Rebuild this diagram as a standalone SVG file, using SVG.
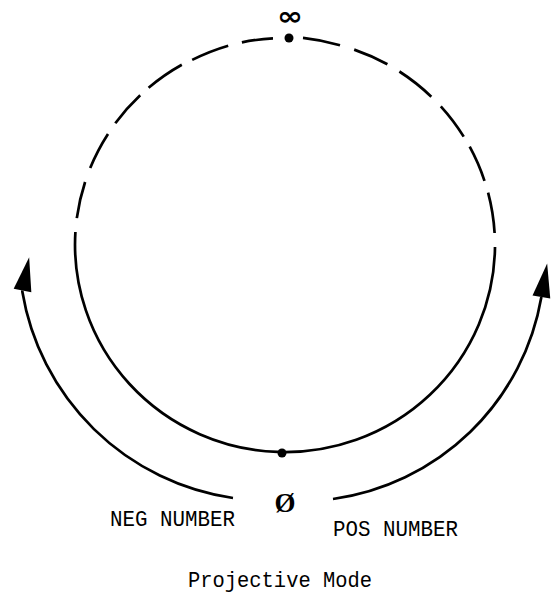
<svg xmlns="http://www.w3.org/2000/svg" width="552" height="594" viewBox="0 0 552 594">
  <style>
    .ln { fill: none; stroke: #000; stroke-width: 2.7; stroke-linecap: butt; }
    .dot { fill: #000; }
    .lbl { font-family: "Liberation Mono", monospace; font-size: 22px; fill: #000; }
    .sym { fill: #000; }
  </style>
  <defs>
    <marker id="head" markerUnits="userSpaceOnUse" markerWidth="40" markerHeight="24" viewBox="-2 -12 40 24" refX="0" refY="0" orient="auto">
      <path d="M0,-9 L34,0 L0,9 Z" fill="#000"/>
    </marker>
  </defs>

  <g id="circle">
    <path class="ln" d="M75.4,232 A210,207.5 0 1 0 495,247"/>
    <path class="ln" d="M76.8,218.1 A210,207.5 0 0 1 85.1,182"/>
    <path class="ln" d="M90.2,168.1 A210,207.5 0 0 1 108,134"/>
    <path class="ln" d="M115.3,123.2 A210,207.5 0 0 1 140.2,95.2"/>
    <path class="ln" d="M148.6,87.7 A210,207.5 0 0 1 181.8,64.7"/>
    <path class="ln" d="M192.2,59.9 A210,207.5 0 0 1 228.2,45.7"/>
    <path class="ln" d="M241.9,42.4 A210,207.5 0 0 1 273,38.3"/>
    <path class="ln" d="M303,37.8 A210,207.5 0 0 1 340,45.2"/>
    <path class="ln" d="M354.2,49.6 A210,207.5 0 0 1 387.4,64.3"/>
    <path class="ln" d="M399.4,71.5 A210,207.5 0 0 1 431.3,96.7"/>
    <path class="ln" d="M440.8,106.3 A210,207.5 0 0 1 463.7,136.6"/>
    <path class="ln" d="M469.7,146.6 A210,207.5 0 0 1 484.5,180.8"/>
    <path class="ln" d="M488.1,192.7 A210,207.5 0 0 1 494.6,233"/>
  </g>

  <g id="infinity">
    <circle class="dot" cx="289" cy="38" r="4.5"/>
    <text class="sym" transform="translate(290,24.5) scale(1.2,1)" x="0" y="0" text-anchor="middle" font-family="DejaVu Sans, sans-serif" font-weight="bold" font-size="26">∞</text>
  </g>

  <g id="zero">
    <circle class="dot" cx="282" cy="453" r="4.5"/>
    <text class="sym" x="285" y="512" text-anchor="middle" font-family="Liberation Serif, serif" font-weight="bold" font-size="27">Ø</text>
  </g>

  <g id="connectors">
    <path class="ln" d="M233,498 A250,250 0 0 1 22.3,291.5 L22.5,290.5" marker-end="url(#head)"/>
    <path class="ln" d="M333,499 A246,246 0 0 0 541.4,297" marker-end="url(#head)"/>
  </g>

  <g id="neg-label">
    <text class="lbl" x="110" y="526" textLength="125" lengthAdjust="spacingAndGlyphs">NEG NUMBER</text>
  </g>
  <g id="pos-label">
    <text class="lbl" x="333" y="536" textLength="125" lengthAdjust="spacingAndGlyphs">POS NUMBER</text>
  </g>
  <g id="title">
    <text class="lbl" x="188" y="587" textLength="184" lengthAdjust="spacingAndGlyphs">Projective Mode</text>
  </g>
</svg>
